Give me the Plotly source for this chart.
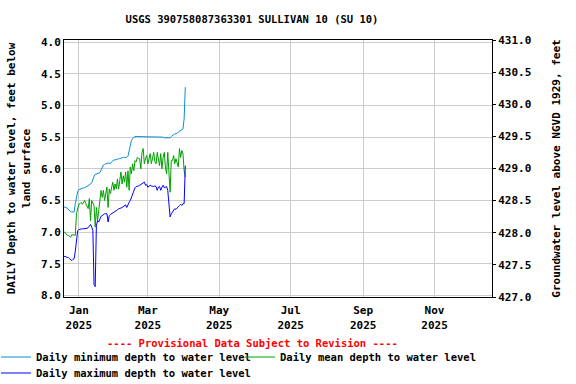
import pandas as pd
import plotly.graph_objects as go

# Daily dates: 2024-12-19 .. 2025-04-02
dates = pd.date_range("2024-12-19", "2025-04-02", freq="D")

# Daily minimum depth to water level (ft below land surface)
depth_min = [
    6.60, 6.60, 6.61, 6.62, 6.64, 6.66, 6.68, 6.68, 6.68, 6.68,
    6.55, 6.42, 6.36, 6.33, 6.32, 6.31, 6.31, 6.30, 6.30, 6.29,
    6.28, 6.27, 6.25, 6.24, 6.22, 6.16, 6.12, 6.09, 6.08, 6.08,
    6.07, 6.06, 6.02, 5.96, 5.94, 5.93, 5.92, 5.92, 5.91, 5.91,
    5.92, 5.89, 5.87, 5.86, 5.86, 5.85, 5.85, 5.84, 5.84, 5.83,
    5.82, 5.82, 5.82, 5.82, 5.82, 5.80, 5.72, 5.62, 5.55, 5.52,
    5.50, 5.49, 5.49, 5.49, 5.50, 5.49, 5.49, 5.50, 5.49, 5.49,
    5.50, 5.49, 5.49, 5.50, 5.49, 5.50, 5.49, 5.49, 5.50, 5.49,
    5.50, 5.49, 5.50, 5.50, 5.49, 5.50, 5.51, 5.51, 5.51, 5.51,
    5.52, 5.51, 5.49, 5.47, 5.46, 5.45, 5.45, 5.44, 5.42, 5.41,
    5.40, 5.39, 5.37, 5.21, 4.71,
]

# Daily mean depth to water level
depth_mean = [
    7.00, 7.00, 7.03, 7.05, 7.05, 7.07, 7.08, 7.04, 7.04, 7.04,
    7.05, 6.71, 6.60, 6.56, 6.55, 6.53, 6.56, 6.53, 6.50, 6.55,
    6.58, 6.63, 6.47, 6.82, 6.50, 6.53, 6.58, 6.92, 6.61, 6.82,
    6.68, 6.47, 6.34, 6.45, 6.34, 6.50, 6.39, 6.29, 6.61, 6.32,
    6.39, 6.29, 6.21, 6.34, 6.24, 6.32, 6.16, 6.32, 6.18, 6.05,
    6.24, 6.11, 6.21, 6.05, 6.29, 6.03, 6.34, 5.97, 6.08, 5.92,
    6.03, 5.87, 5.89, 5.82, 5.84, 5.84, 6.00, 5.74, 5.68, 5.92,
    5.84, 5.79, 5.92, 5.82, 5.76, 5.92, 5.84, 5.74, 5.89, 5.92,
    5.74, 5.87, 5.95, 5.76, 6.00, 5.82, 5.74, 5.97, 6.08, 5.74,
    6.18, 6.37, 5.87, 5.87, 5.79, 5.92, 5.84, 5.92, 5.97, 5.68,
    5.82, 5.71, 5.76, 6.03, 6.13, 5.24,
]

# Daily maximum depth to water level
depth_max = [
    7.38, 7.38, 7.39, 7.40, 7.40, 7.42, 7.43, 7.45, 7.43, 7.42,
    7.30, 7.08, 6.98, 6.96, 6.95, 6.95, 6.95, 6.95, 6.95, 6.95,
    6.94, 6.93, 6.90, 6.88, 6.92, 6.97, 7.83, 7.86, 6.90, 6.82,
    6.84, 6.78, 6.75, 6.74, 6.72, 6.71, 6.71, 6.71, 6.84, 6.74,
    6.72, 6.71, 6.69, 6.68, 6.67, 6.66, 6.65, 6.63, 6.63, 6.62,
    6.61, 6.60, 6.58, 6.57, 6.61, 6.55, 6.53, 6.50, 6.45, 6.38,
    6.32, 6.30, 6.28, 6.28, 6.27, 6.26, 6.25, 6.24, 6.22, 6.21,
    6.26, 6.25, 6.29, 6.27, 6.26, 6.27, 6.28, 6.28, 6.27, 6.28,
    6.34, 6.29, 6.28, 6.34, 6.29, 6.26, 6.30, 6.29, 6.28, 6.34,
    6.61, 6.76, 6.71, 6.68, 6.64, 6.63, 6.64, 6.61, 6.60, 6.58,
    6.56, 6.58, 6.55, 6.55, 5.95,
]

n = min(len(dates), len(depth_min), len(depth_mean), len(depth_max))
dates = dates[:n]
depth_min = depth_min[:n]
depth_mean = depth_mean[:n]
depth_max = depth_max[:n]

tick_dates = ["2025-01-01", "2025-03-01", "2025-05-01", "2025-07-01", "2025-09-01", "2025-11-01"]
tick_labels = ["Jan<br>2025", "Mar<br>2025", "May<br>2025", "Jul<br>2025", "Sep<br>2025", "Nov<br>2025"]
left_ticks = [4.0, 4.5, 5.0, 5.5, 6.0, 6.5, 7.0, 7.5, 8.0]
right_ticks = [427.0, 427.5, 428.0, 428.5, 429.0, 429.5, 430.0, 430.5, 431.0]

FONT = "DejaVu Sans Mono"
W, H = 576, 384
ML, MR, MT, MB = 64, 84, 40, 87
PW = W - ML - MR
PH = H - MT - MB


def px_x(p):
    return (p - ML) / PW


def px_y(p):
    return (H - MB - p) / PH


fig = go.Figure()
fig.add_trace(go.Scatter(x=dates, y=depth_min, mode="lines", name="Daily minimum depth to water level",
                         line=dict(color="#0A8ED8", width=1), legend="legend"))
fig.add_trace(go.Scatter(x=dates, y=depth_mean, mode="lines", name="Daily mean depth to water level",
                         line=dict(color="#00A000", width=1), legend="legend2"))
fig.add_trace(go.Scatter(x=dates, y=depth_max, mode="lines", name="Daily maximum depth to water level",
                         line=dict(color="#0000FF", width=1), legend="legend3"))
# invisible trace to activate the right axis
fig.add_trace(go.Scatter(x=[dates[0]], y=[429.0], yaxis="y2", mode="lines", showlegend=False,
                         line=dict(color="rgba(0,0,0,0)"), hoverinfo="skip"))

legfont = dict(family=FONT, size=10.5, color="black", weight="bold")
legcommon = dict(orientation="v", xanchor="left", yanchor="middle", font=legfont,
                 bgcolor="rgba(0,0,0,0)", borderwidth=0, itemwidth=30)

fig.update_layout(
    width=W, height=H,
    margin=dict(l=ML, r=MR, t=MT, b=MB, autoexpand=False),
    paper_bgcolor="white", plot_bgcolor="white",
    font=dict(family=FONT, size=11, color="black", weight="bold"),
    title=dict(text="USGS 390758087363301 SULLIVAN 10 (SU 10)", x=252 / W, xref="container",
               xanchor="center", y=1 - 19 / H, yanchor="middle",
               font=dict(family=FONT, size=10.5, color="black", weight="bold")),
    xaxis=dict(range=["2024-12-19 08:00", "2025-12-20 02:00"], tickvals=tick_dates, ticktext=tick_labels,
               showgrid=True, gridcolor="#cccccc", gridwidth=1, showline=True, linecolor="black",
               linewidth=1, mirror=True, ticks="", zeroline=False, automargin=False,
               ticklabelstandoff=3,
               tickfont=dict(family=FONT, size=11, weight="bold")),
    yaxis=dict(range=[8.025, 3.965], tickvals=left_ticks, ticktext=[f"{v:.1f}" for v in left_ticks],
               showgrid=True, gridcolor="#cccccc", gridwidth=1, showline=True, linecolor="black",
               linewidth=1, mirror=True, ticks="", zeroline=False, automargin=False,
               tickfont=dict(family=FONT, size=11, weight="bold"),
               title=dict(text="DAILY Depth to water level, feet below<br>land surface", standoff=8,
                          font=dict(family=FONT, size=11, weight="bold"))),
    yaxis2=dict(range=[427.0, 431.0], overlaying="y", side="right", tickvals=right_ticks,
                ticktext=[f"{v:.1f}" for v in right_ticks], showgrid=False, zeroline=False,
                ticks="outside", ticklen=3, tickcolor="black", automargin=False,
                tickfont=dict(family=FONT, size=11, weight="bold"),
                title=dict(text="Groundwater level above NGVD 1929, feet", standoff=21,
                           font=dict(family=FONT, size=11, weight="bold"))),
    legend=dict(x=px_x(-4), y=px_y(357), **legcommon),
    legend2=dict(x=px_x(240), y=px_y(357), **legcommon),
    legend3=dict(x=px_x(-4), y=px_y(373), **legcommon),
    showlegend=True,
    annotations=[dict(text="---- Provisional Data Subject to Revision ----", xref="paper", yref="paper",
                      x=px_x(252), y=px_y(343), xanchor="center", yanchor="middle", showarrow=False,
                      font=dict(family=FONT, size=10.5, color="red", weight="bold"))],
)

fig.write_html("out.html", config={"displayModeBar": False},
               post_script="document.body.style.margin='0';")
